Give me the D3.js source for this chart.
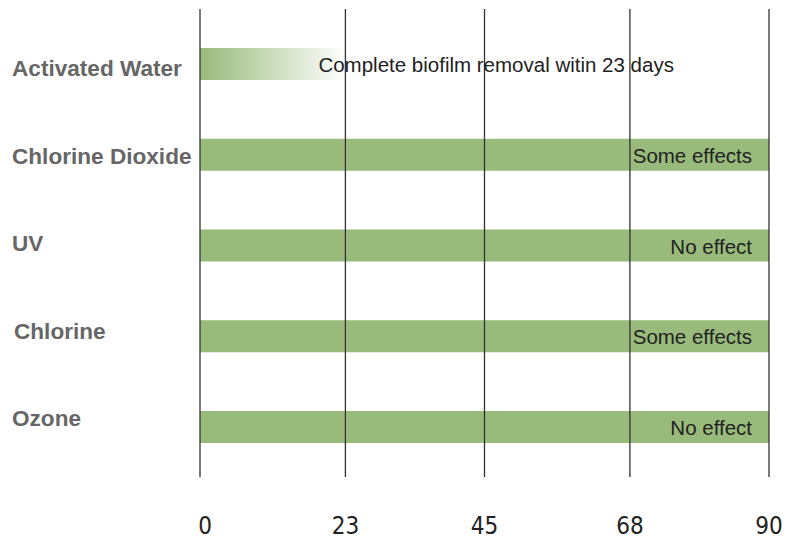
<!DOCTYPE html>
<meta charset="utf-8">
<title>Biofilm removal</title>
<script src="https://d3js.org/d3.v7.min.js"></script>
<style>
  body { margin: 0; background: #fff; }
</style>
<body>
<div id="chart"></div>
<script>

// data
var methods = ["Activated Water", "Chlorine Dioxide", "UV", "Chlorine", "Ozone"];
var days = [23, 90, 90, 90, 90];
var notes = ["Complete biofilm removal witin 23 days", "Some effects", "No effect", "Some effects", "No effect"];
var tickValues = [0, 23, 45, 68, 90];

var W = 787, H = 539;
var green = "#98ba7a";

var svg = d3.select("#chart").append("svg")
    .attr("width", W)
    .attr("height", H);

var x = d3.scaleLinear().domain([0, 90]).range([200, 769]);
var y = d3.scalePoint().domain(methods).range([64, 427]);
// the names on the left sit a little off the bar centres
var yLabel = d3.scalePoint().domain(methods).range([68, 418]);
var barH = 32;

// fade for the first bar
var grad = svg.append("defs").append("linearGradient")
    .attr("id", "fade")
    .attr("x1", "0%").attr("x2", "100%");
grad.append("stop").attr("offset", "0%").attr("stop-color", green);
grad.append("stop").attr("offset", "100%").attr("stop-color", "#ffffff");

var rows = methods.map(function (m, i) {
    return { name: m, value: days[i], note: notes[i], i: i };
});

// bars
svg.append("g").selectAll("rect")
    .data(rows)
    .enter().append("rect")
    .attr("x", x(0))
    .attr("y", function (d) { return y(d.name) - barH / 2; })
    .attr("width", function (d) { return x(d.value) - x(0); })
    .attr("height", barH)
    .attr("fill", function (d) { return d.i == 0 ? "url(#fade)" : green; });

// vertical grid lines on top of the bars
svg.append("g").selectAll("line")
    .data(tickValues)
    .enter().append("line")
    .attr("x1", function (d) { return x(d); })
    .attr("x2", function (d) { return x(d); })
    .attr("y1", 9)
    .attr("y2", 477)
    .attr("stroke", "#333")
    .attr("stroke-width", 1.3);

// tick labels
svg.append("g").selectAll("text")
    .data(tickValues)
    .enter().append("text")
    .attr("x", function (d) { return x(d) + (d == 0 ? 5 : 0); })
    .attr("y", 534)
    .attr("text-anchor", "middle")
    .attr("font-family", "'Liberation Sans Narrow', 'DejaVu Sans Condensed', sans-serif")
    .attr("font-size", 24)
    .attr("fill", "#222")
    .text(function (d) { return d; });

// category labels
svg.append("g").selectAll("text")
    .data(rows)
    .enter().append("text")
    .attr("x", function (d) { return d.name == "Chlorine" ? 14 : 12; })
    .attr("y", function (d) { return yLabel(d.name); })
    .attr("dy", "0.36em")
    .attr("font-family", "'Liberation Sans', Arial, sans-serif")
    .attr("font-weight", "bold")
    .attr("font-size", 22.6)
    .attr("fill", "#666")
    .text(function (d) { return d.name; });

// notes inside / after the bars
svg.append("g").selectAll("text")
    .data(rows)
    .enter().append("text")
    .attr("x", function (d) { return d.i == 0 ? x(d.value) - 27 : x(d.value) - 17; })
    .attr("y", function (d) { return y(d.name) + 8; })
    .attr("text-anchor", function (d) { return d.i == 0 ? "start" : "end"; })
    .attr("font-family", "'Liberation Sans', Arial, sans-serif")
    .attr("font-size", 20.5)
    .attr("fill", "#222")
    .text(function (d) { return d.note; });

</script>
</body>
